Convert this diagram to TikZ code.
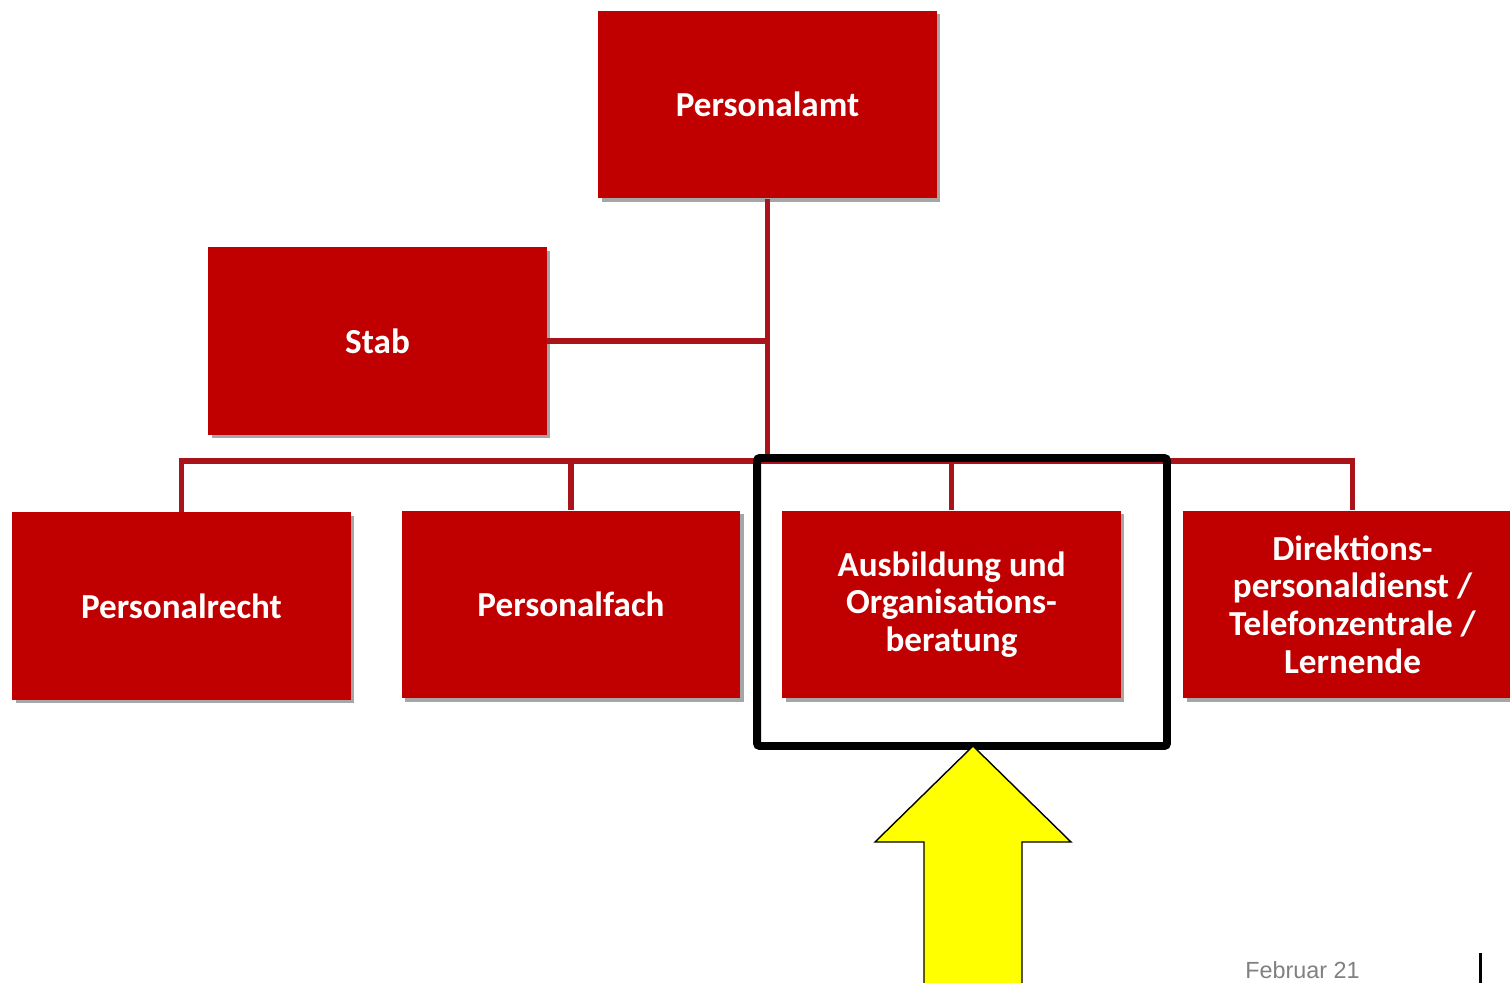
\documentclass[tikz,border=0pt]{standalone}
\usepackage{fontspec}
\setmainfont{Carlito}
\newfontfamily\datefont{Liberation Sans}
\usetikzlibrary{shadows,positioning}
\definecolor{amtred}{HTML}{C00000}
\definecolor{linkred}{HTML}{A8141A}
\definecolor{pointeryellow}{HTML}{FFFF00}
\tikzset{
  unit/.style={rectangle, fill=amtred, text=white, align=center,
    minimum width=6.78cm, minimum height=3.76cm, inner sep=2pt,
    font=\fontsize{20}{21.5}\selectfont\bfseries,
    drop shadow={shadow xshift=0.07cm, shadow yshift=-0.07cm, opacity=0.35, fill=black}},
  link/.style={draw=linkred, line width=3.2pt},
  frame/.style={draw=black, line width=4.5pt, rounded corners=1.5pt,
    minimum width=8.2cm, minimum height=5.76cm},
  pointer/.style={draw=black, fill=pointeryellow, line width=0.8pt},
  datum/.style={text=black!50, font=\datefont\fontsize{13.3}{15}\selectfont, inner sep=0pt}
}

\begin{document}
\begin{tikzpicture}[x=0.02cm, y=-0.02cm]
\useasboundingbox (0,0) rectangle (1510,983);

% boxes
\node[unit](amt) at (767.5,104.5) {Personalamt};
\node[unit](stab) at (377.5,341) {Stab};
\node[unit](recht) at (181.5,606) {Personalrecht};
\node[unit](fach) at (571,604.5) {Personalfach};
\node[unit](ausb) at (951.5,604.5) {Ausbildung und\\Organisations-\\beratung};
\node[unit](dir) at (1352.5,604.5) {Direktions-\\personaldienst /\\Telefonzentrale /\\Lernende};

% lines
\coordinate (hub) at (767.5,461);
\draw[link] (amt.south) -- (hub);
\draw[link] (stab.east) -- (stab.east -| amt.south);
\draw[link] (recht.north) |- (hub) -| (dir.north);
\draw[link] (fach.north) -- (fach.north |- hub);
\draw[link] (ausb.north) -- (ausb.north |- hub);

% highlight
\node[frame](mark) at (962,602) {};
\coordinate (tip) at (973,746);
\draw[pointer] (tip) -- ++(98,96) -- ++(-49,0) -- ++(0,160) -- ++(-98,0) -- ++(0,-160) -- ++(-49,0) -- cycle;

% footer
\node[datum, anchor=base west](date) at (1245,978) {Februar 21};
\draw[line width=1.7pt] (1480,953) -- (1480,990);
\end{tikzpicture}
\end{document}
